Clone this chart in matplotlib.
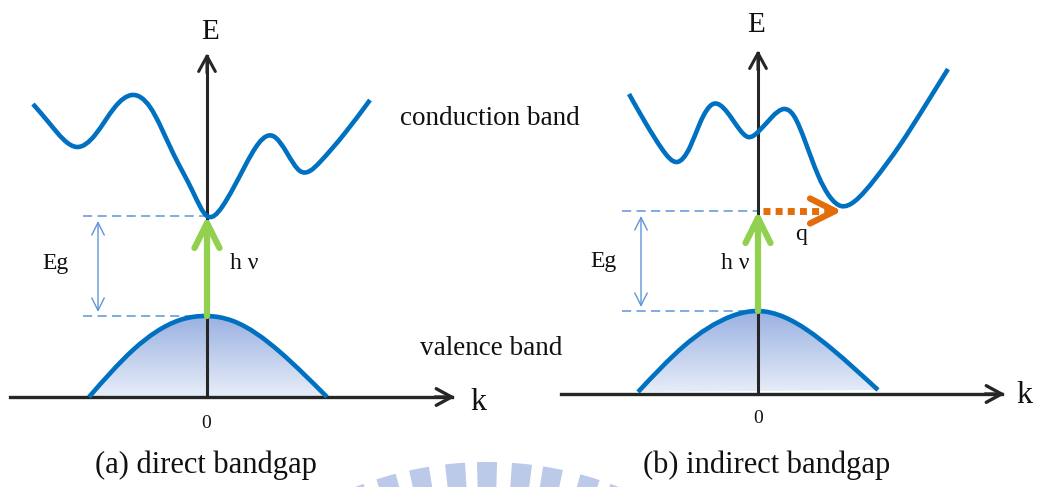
import numpy as np
import matplotlib
matplotlib.use("Agg")
import matplotlib.pyplot as plt
from matplotlib.path import Path
from matplotlib.patches import PathPatch, FancyArrowPatch, ArrowStyle, Wedge
from matplotlib.colors import LinearSegmentedColormap

plt.rcParams['font.family'] = ['Liberation Serif', 'DejaVu Serif']

# ---- data (pixel coords, y grows downwards) ----
# (a) direct bandgap
cond_a_x = [33, 50, 77, 95, 115, 132, 150, 173, 193, 207, 222, 245, 273, 287, 300, 320, 345, 370]
cond_a_y = [104, 124, 147, 135, 107, 95, 107, 153, 192, 216, 207, 166, 136, 153, 171, 162, 133, 100]
val_a_x = [89, 133, 180, 207, 233, 280, 327]
val_a_y = [397, 350, 320, 316, 321, 352, 397]

# (b) indirect bandgap
cond_b_x = [629, 645, 662, 677, 690, 700, 713, 727, 740, 748, 758, 772, 784, 794, 805, 818, 830, 841, 855, 875, 900, 925, 948]
cond_b_y = [94, 122, 149, 162, 147, 123, 104, 112, 130, 137, 132, 117, 109, 116, 141, 175, 197, 206, 201, 179, 145, 106, 69]
val_b_x = [638, 684, 732, 758, 784, 832, 878]
val_b_y = [392, 346, 316, 311, 317, 349, 390]

# panel geometry: origin x, k-axis y, E-axis top, cb min y, vb max y
panels = {
    'a': dict(x0=207, yk=397, ytop=53, kx0=10, kx1=455, ecb=216, evb=316,
              dash_x0=83, eg_x=98),
    'b': dict(x0=758, yk=394, ytop=50, kx0=561, kx1=1005, ecb=211, evb=311,
              dash_x0=622, eg_x=641),
}
q_start, q_end = 763, 842

# watermark bars: x of bar centres along the arc
wm_bar_x = [354, 386, 419, 455, 487, 522, 553, 590, 620]

BLUE = '#0070c0'
DASH = '#5f95d6'
GREEN = '#92d050'
ORANGE = '#e46c0a'
AXIS = '#262626'


def smooth_path(xs, ys, close=False):
    # natural cubic spline y(x) through the read points, drawn as Bezier segments
    x = np.asarray(xs, float)
    y = np.asarray(ys, float)
    n = len(x)
    h = np.diff(x)
    dl = np.diff(y) / h
    A = np.zeros((n, n))
    b = np.zeros(n)
    A[0, 0] = A[-1, -1] = 1
    for i in range(1, n - 1):
        A[i, i - 1] = h[i - 1]
        A[i, i] = 2 * (h[i - 1] + h[i])
        A[i, i + 1] = h[i]
        b[i] = 6 * (dl[i] - dl[i - 1])
    M = np.linalg.solve(A, b)
    m = np.empty(n)
    m[:-1] = dl - h * (2 * M[:-1] + M[1:]) / 6
    m[-1] = dl[-1] + h[-1] * (M[-2] + 2 * M[-1]) / 6
    verts = [(x[0], y[0])]
    codes = [Path.MOVETO]
    for k in range(n - 1):
        verts += [(x[k] + h[k] / 3, y[k] + m[k] * h[k] / 3),
                  (x[k + 1] - h[k] / 3, y[k + 1] - m[k + 1] * h[k] / 3),
                  (x[k + 1], y[k + 1])]
        codes += [Path.CURVE4] * 3
    if close:
        verts += [(x[0], y[0]), (x[0], y[0])]
        codes += [Path.LINETO, Path.CLOSEPOLY]
    return Path(verts, codes)


def arrow(p0, p1, color, lw, hl, hw, style='->', z=3, **kw):
    ax.add_patch(FancyArrowPatch(p0, p1, arrowstyle=ArrowStyle(style, head_length=hl, head_width=hw),
                                 mutation_scale=1, lw=lw, color=color, shrinkA=0, shrinkB=0,
                                 zorder=z, **kw))


fig = plt.figure(figsize=(10.39, 4.87), dpi=100)
ax = fig.add_axes([0, 0, 1, 1])

fill_cmap = LinearSegmentedColormap.from_list('vb', ['#e8eef9', '#9ab1e1'])
grad = np.linspace(0, 1, 200).reshape(-1, 1)

for key, cx, cy, vx, vy in [('a', cond_a_x, cond_a_y, val_a_x, val_a_y),
                            ('b', cond_b_x, cond_b_y, val_b_x, val_b_y)]:
    g = panels[key]
    # valence band gradient fill
    clip = PathPatch(smooth_path(vx, vy, close=True), facecolor='none', edgecolor='none')
    ax.add_patch(clip)
    im = ax.imshow(grad, cmap=fill_cmap, origin='lower', aspect='auto',
                   extent=[min(vx), max(vx), g['yk'], min(vy)], zorder=1)
    im.set_clip_path(clip)

    # axes
    ax.plot([g['kx0'], g['kx1'] - 3], [g['yk'], g['yk']], color=AXIS, lw=2.4, zorder=3)
    arrow((g['kx1'] - 20, g['yk']), (g['kx1'], g['yk']), AXIS, 2.4, 11, 6)
    ax.plot([g['x0'], g['x0']], [g['yk'], g['ytop'] + 3], color=AXIS, lw=2.2, zorder=3)
    arrow((g['x0'], g['ytop'] + 20), (g['x0'], g['ytop']), AXIS, 2.2, 11, 6)

    # bands
    ax.add_patch(PathPatch(smooth_path(cx, cy), facecolor='none', edgecolor=BLUE,
                           lw=3.3, capstyle='butt', zorder=4))
    ax.add_patch(PathPatch(smooth_path(vx, vy), facecolor='none', edgecolor=BLUE,
                           lw=3.3, capstyle='butt', zorder=4))

    # dashed level lines and Eg arrow
    for yy in (g['ecb'], g['evb']):
        ax.plot([g['dash_x0'], g['x0']], [yy, yy], color=DASH, lw=1.1,
                dashes=(6, 3.5), zorder=2)
    arrow((g['eg_x'], g['evb'] - 4), (g['eg_x'], g['ecb'] + 5), DASH, 1.0, 9, 4.5, style='<->', z=2)

    # photon arrow
    arrow((g['x0'], g['evb']), (g['x0'], g['ecb']), GREEN, 4.5, 18, 9, z=5,
          capstyle='round', joinstyle='round')

# phonon arrow (b)
yq = panels['b']['ecb']
ax.plot([q_start, q_end - 10], [yq, yq], color=ORANGE, lw=5, dashes=(1, 0.75),
        solid_capstyle='butt', dash_capstyle='butt', zorder=5)
arrow((q_end - 14, yq), (q_end, yq), ORANGE, 4.5, 18, 9, z=5, capstyle='round')

# watermark arc
wm_cx, wm_cy, wm_r = 487, 822, 360
for bx in wm_bar_x:
    ang = 270 + np.degrees(np.arcsin((bx - wm_cx) / wm_r))
    ax.add_patch(Wedge((wm_cx, wm_cy), wm_r, ang - 1.6, ang + 1.6, width=60,
                       facecolor='#bacae8', edgecolor='none', zorder=0))

# texts
t = dict(color='#111111', va='baseline')
ax.text(210, 39, 'E', fontsize=21, ha='center', **t)
ax.text(756, 32, 'E', fontsize=21, ha='center', **t)
ax.text(470, 410, 'k', fontsize=23, ha='left', **t)
ax.text(1016, 403, 'k', fontsize=23, ha='left', **t)
ax.text(206, 428, '0', fontsize=14, ha='center', **t)
ax.text(758, 423, '0', fontsize=14, ha='center', **t)
ax.text(206, 473, '(a) direct bandgap', fontsize=22, ha='center', **t)
ax.text(767, 473, '(b) indirect bandgap', fontsize=22, ha='center', **t)
ax.text(400, 125, 'conduction band', fontsize=19.5, ha='left', **t)
ax.text(420, 355, 'valence band', fontsize=19.5, ha='left', **t)
ax.text(42, 269, 'Eg', fontsize=17, ha='left', **t)
ax.text(590, 267, 'Eg', fontsize=17, ha='left', **t)
ax.text(230, 269, 'h ν', fontsize=17, ha='left', **t)
ax.text(749, 269, 'h ν', fontsize=17, ha='right', **t)
ax.text(795, 240, 'q', fontsize=17, ha='left', **t)

ax.set_xlim(0, 1039)
ax.set_ylim(487, 0)
ax.axis('off')

fig.savefig('out.png', dpi=100)
